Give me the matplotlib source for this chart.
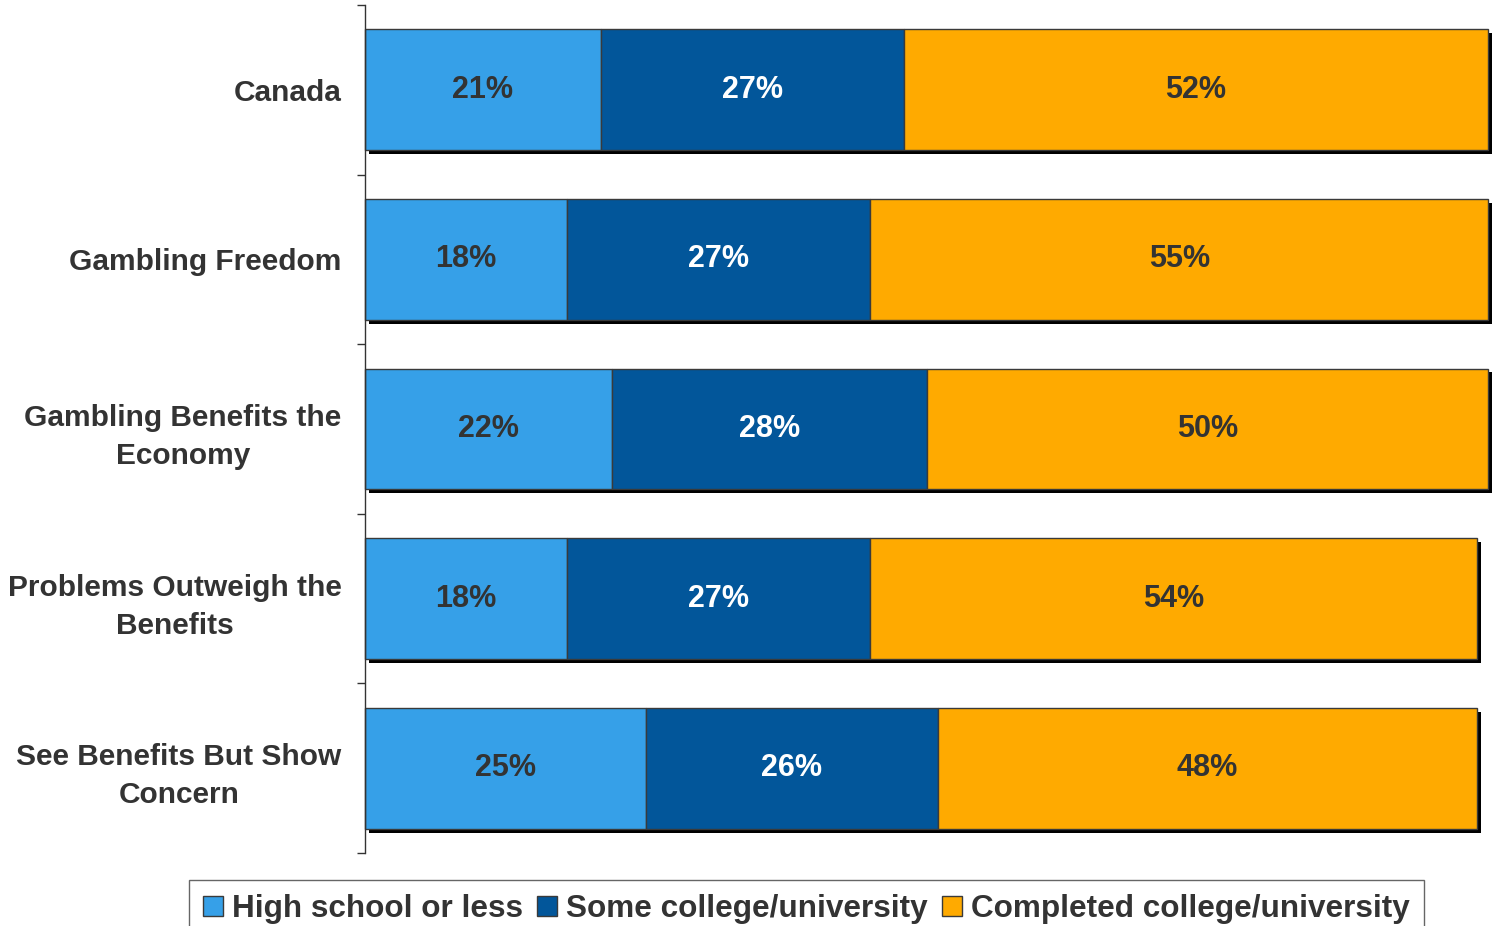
import matplotlib
matplotlib.use("Agg")
import matplotlib.pyplot as plt
import matplotlib.patheffects as pe
import numpy as np

plt.rcParams['font.family'] = ['Liberation Sans', 'DejaVu Sans']
plt.rcParams['font.weight'] = 'bold'

categories = ["Canada", "Gambling Freedom", "Gambling Benefits the\nEconomy",
              "Problems Outweigh the\nBenefits", "See Benefits But Show\nConcern"]
series_names = ["High school or less", "Some college/university",
                "Completed college/university"]
high_school = [21, 18, 22, 18, 25]
some_college = [27, 27, 28, 27, 26]
completed = [52, 55, 50, 54, 48]

colors = ["#36A0E8", "#02569A", "#FFAA00"]
label_colors = ["#333333", "#FFFFFF", "#333333"]
text_color = "#333333"

W, H = 1495, 926
fig = plt.figure(figsize=(W / 100, H / 100), dpi=100)
ax = fig.add_axes([365 / W, 1 - 853 / H, 1123 / W, 848 / H])

y = np.arange(len(categories))
left = np.zeros(len(categories))
shadow = [pe.SimplePatchShadow(offset=(2.8, -2.8), shadow_rgbFace='black', alpha=1.0),
          pe.Normal()]
for vals, name, col, lc in zip([high_school, some_college, completed],
                               series_names, colors, label_colors):
    vals = np.array(vals, dtype=float)
    bars = ax.barh(y, vals, left=left, height=0.713, color=col, edgecolor="#3a3a3a",
                   linewidth=1.0, label=name)
    for b in bars:
        b.set_path_effects(shadow)
        b.set_clip_on(False)
    for yi, l, v in zip(y, left, vals):
        ax.text(l + v / 2, yi, f"{int(v)}%", ha="center", va="center",
                fontsize=22, fontweight="bold", color=lc)
    left += vals

ax.set_xlim(0, 100)
ax.set_ylim(len(categories) - 0.5, -0.5)
ax.set_xticks([])
ax.set_yticks(y)
ax.set_yticklabels(categories, fontsize=21.5, fontweight="bold", color=text_color,
                   multialignment="center", linespacing=1.45)
ax.set_yticks(np.arange(-0.5, len(categories)), minor=True)
ax.tick_params(axis="y", which="major", length=0, pad=17)
ax.tick_params(axis="y", which="minor", length=6, width=1, color="#333333")
for s in ["top", "right", "bottom"]:
    ax.spines[s].set_visible(False)
ax.spines["left"].set_color("#333333")
ax.spines["left"].set_linewidth(1)

handles, labels = ax.get_legend_handles_labels()
leg = fig.legend(handles, labels, loc="upper center",
                 bbox_to_anchor=(806.5 / W, 1 - 880 / H), ncol=3, frameon=True,
                 fancybox=False, edgecolor="#666666", framealpha=1,
                 prop={"size": 22.7, "weight": "bold"},
                 handlelength=0.62, handleheight=0.62, handletextpad=0.3,
                 columnspacing=0.45, borderpad=0.45, borderaxespad=0)
for t in leg.get_texts():
    t.set_color(text_color)
for h in leg.legend_handles:
    h.set_path_effects([])
    h.set_edgecolor("#3a3a3a")
leg.get_frame().set_linewidth(1)

fig.savefig("out.png", dpi=100)
